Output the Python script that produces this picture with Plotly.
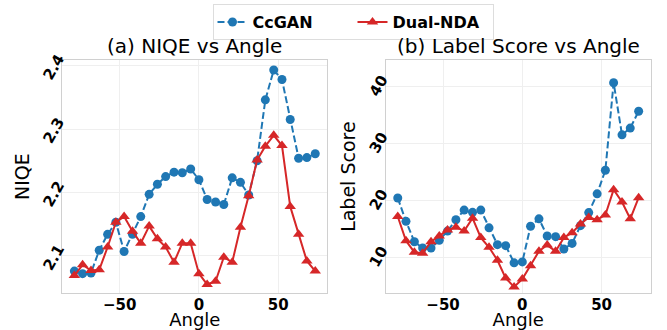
import plotly.graph_objects as go

angles = [-78.6, -73.4, -68.1, -62.9, -57.6, -52.4, -47.2, -41.9, -36.7, -31.4,
          -26.2, -21.0, -15.7, -10.5, -5.2, 0.0, 5.2, 10.5, 15.7, 21.0,
          26.2, 31.4, 36.7, 41.9, 47.2, 52.4, 57.6, 62.9, 68.1, 73.4]

niqe_ccgan = [2.076, 2.072, 2.073, 2.109, 2.134, 2.153, 2.107, 2.134, 2.162, 2.197,
              2.213, 2.225, 2.232, 2.231, 2.237, 2.220, 2.189, 2.185, 2.181, 2.223,
              2.216, 2.196, 2.250, 2.346, 2.393, 2.378, 2.315, 2.254, 2.255, 2.261]
niqe_dual = [2.069, 2.086, 2.077, 2.078, 2.114, 2.153, 2.162, 2.139, 2.120, 2.147,
             2.127, 2.114, 2.090, 2.120, 2.120, 2.072, 2.055, 2.060, 2.098, 2.090,
             2.145, 2.195, 2.251, 2.273, 2.290, 2.274, 2.178, 2.134, 2.092, 2.076]

ls_ccgan = [20.48, 16.38, 12.80, 11.71, 11.71, 13.07, 14.68, 16.66, 18.36, 17.97,
            18.36, 15.24, 12.29, 12.12, 9.10, 9.27, 15.53, 16.83, 13.82, 13.70,
            11.54, 12.51, 15.63, 17.92, 21.21, 25.36, 40.72, 31.57, 32.76, 35.72]
ls_dual = [17.24, 12.97, 10.97, 10.80, 12.80, 13.82, 14.85, 15.36, 14.68, 16.95,
           13.53, 11.83, 9.56, 6.42, 4.88, 6.25, 8.58, 11.14, 12.22, 11.14,
           13.53, 14.39, 15.92, 17.06, 16.66, 17.51, 21.95, 19.79, 16.83, 20.53]

series_names = ["CcGAN", "Dual-NDA"]
panel_titles = ["(a) NIQE vs Angle", "(b) Label Score vs Angle"]
y_titles = ["NIQE", "Label Score"]
x_title = "Angle"

BLUE = "#1f77b4"
RED = "#d62728"
FONT = "DejaVu Sans"

fig = go.Figure()

def add_pair(xref, yref, yb, yr, show):
    fig.add_trace(go.Scatter(
        x=angles, y=yb, name=series_names[0], mode="lines+markers",
        line=dict(color=BLUE, width=2, dash="7px,3px"),
        marker=dict(symbol="circle", size=9, color=BLUE),
        xaxis=xref, yaxis=yref, showlegend=show, legendgroup="a"))
    fig.add_trace(go.Scatter(
        x=angles, y=yr, name=series_names[1], mode="lines+markers",
        line=dict(color=RED, width=2),
        marker=dict(symbol="triangle-up", size=10, color=RED),
        xaxis=xref, yaxis=yref, showlegend=show, legendgroup="b"))

add_pair("x", "y", niqe_ccgan, niqe_dual, True)
add_pair("x2", "y2", ls_ccgan, ls_dual, False)

W, H = 667, 330
dom_y = [1 - 292.3 / H, 1 - 52.3 / H]
dom_x1 = [62.3 / W, 327.3 / W]
dom_x2 = [385.7 / W, 650.7 / W]

tickfont = dict(family=FONT, size=15, color="black", weight="bold")
titlefont = dict(family=FONT, size=19, color="black")
xtitlefont = dict(family=FONT, size=18, color="black")

common_x = dict(range=[-86.2, 81.0], tickvals=[-50, 0, 50], showgrid=True,
                gridcolor="#efefef", gridwidth=1, zeroline=False, showline=True,
                linecolor="#d0d0d0", linewidth=1, mirror=True,
                ticks="inside", ticklen=1, tickcolor="rgba(0,0,0,0)",
                ticklabelposition="outside", ticklabelstandoff=-2,
                tickfont=tickfont, title=dict(text=x_title, font=xtitlefont, standoff=3))
common_y = dict(showgrid=True, gridcolor="#efefef", gridwidth=1, zeroline=False,
                showline=True, linecolor="#d0d0d0", linewidth=1, mirror=True,
                ticks="", tickfont=tickfont, tickangle=-60, ticklabelshift=-9)

fig.update_layout(
    width=W, height=H,
    margin=dict(l=0, r=0, t=0, b=0),
    paper_bgcolor="white", plot_bgcolor="white",
    font=dict(family=FONT, color="black"),
    xaxis=dict(domain=dom_x1, anchor="y", **common_x),
    xaxis2=dict(domain=dom_x2, anchor="y2", **common_x),
    yaxis=dict(domain=dom_y, anchor="x", range=[2.041, 2.409], tickvals=[2.1, 2.2, 2.3, 2.4],
               title=dict(text=y_titles[0], font=titlefont, standoff=4), **common_y),
    yaxis2=dict(domain=dom_y, anchor="x2", range=[3.75, 44.73], tickvals=[10, 20, 30, 40],
                title=dict(text=y_titles[1], font=titlefont, standoff=4), **common_y),
    legend=dict(orientation="h", x=353 / W, xanchor="center", y=1 + 5 / H, yanchor="top",
                bordercolor="#dddddd", borderwidth=1, bgcolor="white",
                font=dict(family=FONT, size=16, color="black", weight="bold"),
                itemwidth=30, entrywidth=95),
    showlegend=True,
)

for i, (t, dom) in enumerate(zip(panel_titles, [dom_x1, dom_x2])):
    fig.add_annotation(text=t, x=(dom[0] + dom[1]) / 2, y=1 - 38.5 / H,
                       xref="paper", yref="paper", xanchor="center", yanchor="middle",
                       showarrow=False, font=dict(family=FONT, size=20, color="black"))

fig.write_html("out.html")
